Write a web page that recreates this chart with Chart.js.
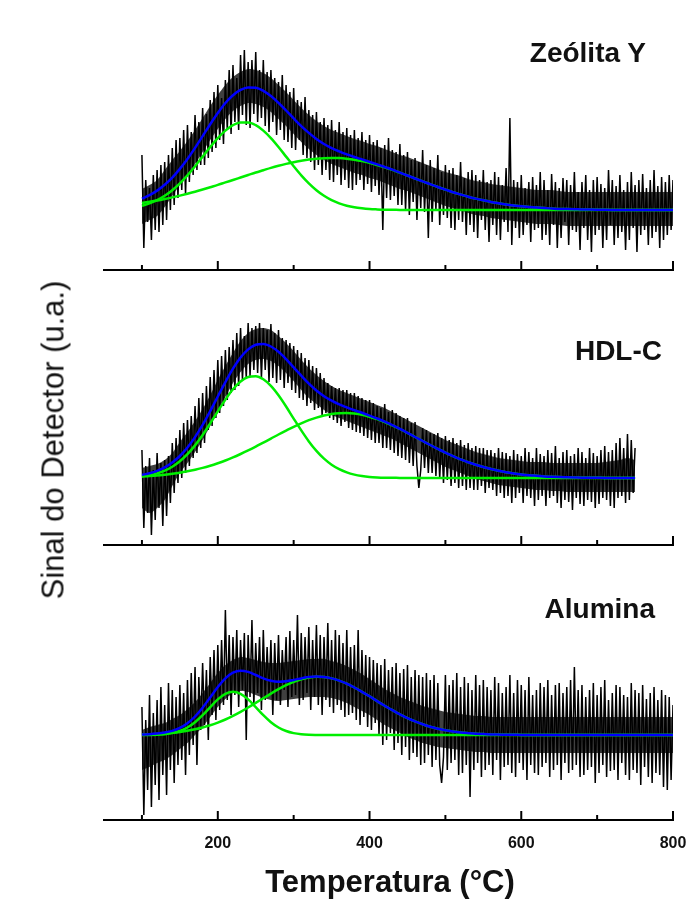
<!DOCTYPE html>
<html>
<head>
<meta charset="utf-8">
<script src="https://cdn.jsdelivr.net/npm/chart.js@4.4.1/dist/chart.umd.min.js"></script>
<style>
  body { margin: 0; background: #fff; }
  #wrap { position: relative; width: 691px; height: 899px; overflow: hidden; }
  canvas { position: absolute; left: 0; }
  .lbl { position: absolute; font: bold 28px 'Liberation Sans', Arial, sans-serif; line-height: 28px; color: #111; white-space: nowrap; }
  #ytitle { position: absolute; left: 53px; top: 440px; transform: translate(-50%, -50%) rotate(-90deg);
            font: 31px 'Liberation Sans', Arial, sans-serif; line-height: 31px; color: #111; white-space: nowrap; }
  #xtitle { position: absolute; left: 390px; top: 866px; transform: translateX(-50%);
            font: bold 31px 'Liberation Sans', Arial, sans-serif; line-height: 31px; color: #111; white-space: nowrap; }
</style>
</head>
<body>
<div id="wrap">
  <canvas id="c1" width="691" height="272" style="top:0px"></canvas>
  <canvas id="c2" width="691" height="272" style="top:275px"></canvas>
  <canvas id="c3" width="691" height="349" style="top:550px"></canvas>
  <div class="lbl" style="right:45px; top:39px">Zeólita Y</div>
  <div class="lbl" style="right:29px; top:337px">HDL-C</div>
  <div class="lbl" style="right:36px; top:595px">Alumina</div>
  <div id="ytitle">Sinal do Detector (u.a.)</div>
  <div id="xtitle">Temperatura (°C)</div>
</div>
<script>
// x ticks
let xTicksMajor = [200, 400, 600, 800];
let xTicksMinor = [100, 300, 500, 700];

// temperatures of the fitted curves (°C)
let fitTemps = [100,110,120,130,140,150,160,170,180,190,200,210,220,230,240,250,260,270,280,290,
  300,310,320,330,340,350,360,370,380,390,400,410,420,430,440,450,460,470,480,490,
  500,510,520,530,540,550,560,570,580,590,600,610,620,630,640,650,660,670,680,690,
  700,710,720,730,740,750,760,770,780,790,800];

// Zeólita Y - fit (blue) and the two component peaks (green)
let zeoBlue = [11.3,14.9,19.4,25.2,32.4,41.1,51.0,62.1,73.9,85.8,97.0,107.0,114.8,120.1,122.6,122.3,119.2,114.0,107.2,99.5,
  91.6,83.9,77.1,71.0,66.0,61.9,58.6,55.6,53.0,50.6,48.1,45.6,43.0,40.3,37.4,34.5,31.5,28.6,25.8,23.0,
  20.4,17.8,15.5,13.3,11.4,9.7,8.1,6.8,5.6,4.6,3.7,3.0,2.4,1.9,1.5,1.1,0.9,0.7,0.5,0.4,
  0.3,0.2,0.1,0,0,0,0,0,0,0,0];
let zeoGreen1 = [4.3,6.7,9.9,14.2,19.8,26.7,34.7,43.8,53.4,63.0,71.9,79.4,84.8,87.6,87.6,84.8,79.4,71.9,63.0,53.4,
  43.8,34.7,26.7,19.8,14.2,9.9,6.7,4.3,2.7,1.7,1.0,0.6,0.3,0.2,0.1,0,0,0,0,0,
  0,0,0,0,0,0,0,0,0,0,0,0,0,0,0,0,0,0,0,0,
  0,0,0,0,0,0,0,0,0,0,0];
let zeoGreen2 = [7.0,8.2,9.5,11.0,12.6,14.4,16.3,18.3,20.5,22.8,25.1,27.6,30.0,32.5,35.0,37.5,39.8,42.1,44.2,46.1,
  47.8,49.2,50.4,51.2,51.8,52.0,51.9,51.3,50.3,48.9,47.1,45.0,42.7,40.1,37.3,34.5,31.5,28.6,25.8,23.0,
  20.4,17.8,15.5,13.3,11.4,9.7,8.1,6.8,5.6,4.6,3.7,3.0,2.4,1.9,1.5,1.1,0.9,0.7,0.5,0.4,
  0.3,0.2,0.1,0,0,0,0,0,0,0,0];
// dense part of the raw signal band (upper / lower edge)
let zeoCoreHi = [21,25,30,40,50,59,69,80,92,104,115,125,133,138,141,140,137,132,125,118,
  110,102,95,89,84,80,77,74,71,69,66,64,61,58,55,53,50,47,44,41,
  38,36,34,31,29,28,26,25,24,23,22,21,20,20,20,19,18,18,18,18,
  18,18,18,18,18,18,18,18,18,18,18];
let zeoCoreLo = [-14,-10,-6,3,14,25,35,46,58,70,81,91,99,104,107,106,103,98,91,84,
  76,68,61,55,50,46,43,40,37,35,32,30,27,24,21,19,16,13,10,7,
  4,2,0,-3,-5,-6,-8,-9,-10,-11,-12,-13,-14,-14,-14,-15,-16,-16,-16,-16,
  -16,-16,-16,-16,-16,-16,-16,-16,-16,-16,-16];

// HDL-C (100 to 750 °C)
let hdlBlue = [3.1,4.7,7.1,10.6,15.5,22.0,30.5,40.9,53.1,66.9,81.5,95.9,109.3,120.5,128.6,133.2,134.1,131.5,126.2,118.9,
  110.6,102.3,94.4,87.5,81.8,77.3,73.6,70.6,67.8,65.2,62.4,59.5,56.3,52.8,49.1,45.1,41.0,37.0,33.0,29.1,
  25.4,21.9,18.7,15.8,13.3,11.0,9.0,7.3,5.8,4.6,3.6,2.8,2.2,1.6,1.2,0.9,0.7,0.5,0.3,0.2,
  0.2,0.1,0.1,0,0,0];
let hdlGreen1 = [1.6,2.8,4.6,7.3,11.3,16.7,23.8,32.6,43.0,54.6,66.7,78.4,88.7,96.5,101.0,101.8,98.7,92.1,82.7,71.5,
  59.4,47.6,36.6,27.1,19.3,13.3,8.8,5.6,3.4,2.0,1.1,0.6,0.3,0.2,0.1,0,0,0,0,0,
  0,0,0,0,0,0,0,0,0,0,0,0,0,0,0,0,0,0,0,0,
  0,0,0,0,0,0];
let hdlGreen2 = [1.5,1.9,2.5,3.3,4.2,5.3,6.7,8.3,10.1,12.3,14.8,17.5,20.6,24.0,27.6,31.4,35.4,39.4,43.5,47.4,
  51.2,54.7,57.8,60.4,62.5,64.0,64.8,65.0,64.4,63.2,61.3,58.9,56.0,52.6,49.0,45.1,41.0,37.0,33.0,29.1,
  25.4,21.9,18.7,15.8,13.3,11.0,9.0,7.3,5.8,4.6,3.6,2.8,2.2,1.6,1.2,0.9,0.7,0.5,0.3,0.2,
  0.2,0.1,0.1,0,0,0];
let hdlCoreHi = [10,12,14,18,25,36,46,57,69,83,98,112,125,137,145,149,150,148,142,135,
  127,118,110,103,97,92,88,85,82,79,76,73,70,66,62,58,54,50,46,42,
  38,35,32,29,26,24,22,20,19,18,17,16,16,16,15,15,15,15,15,15,
  15,16,17,18,20,18];
let hdlCoreLo = [-30,-35,-30,-22,-8,5,15,26,38,52,67,81,95,106,114,118,119,117,112,105,
  97,88,80,74,68,63,60,57,54,51,48,45,42,39,35,31,27,23,19,15,
  11,8,5,2,-1,-3,-5,-7,-8,-9,-10,-11,-12,-12,-13,-13,-14,-14,-14,-14,
  -14,-14,-14,-14,-14,-14];

// Alumina
let aluBlue = [0.5,0.8,1.4,2.4,4.1,7.1,11.7,18.5,27.3,37.6,48.0,56.7,62.4,64.3,63.1,60.0,56.6,54.2,53.3,53.8,
  55.1,56.6,57.9,58.4,58.0,56.6,54.4,51.3,47.5,43.2,38.7,33.9,29.3,24.8,20.7,16.9,13.6,10.7,8.3,6.3,
  4.7,3.5,2.5,1.8,1.2,0.9,0.6,0.4,0.2,0.2,0.1,0.1,0,0,0,0,0,0,0,0,
  0,0,0,0,0,0,0,0,0,0,0];
let aluGreen1 = [0.0,0.1,0.3,0.8,1.9,4.0,7.5,12.8,19.8,27.9,35.6,41.2,43.3,41.2,35.6,27.9,19.8,12.8,7.5,4.0,
  1.9,0.8,0.3,0.1,0,0,0,0,0,0,0,0,0,0,0,0,0,0,0,0,
  0,0,0,0,0,0,0,0,0,0,0,0,0,0,0,0,0,0,0,0,
  0,0,0,0,0,0,0,0,0,0,0];
let aluGreen2 = [0.5,0.7,1.1,1.6,2.2,3.1,4.2,5.7,7.5,9.7,12.4,15.5,19.1,23.1,27.5,32.1,36.8,41.4,45.8,49.8,
  53.2,55.8,57.6,58.3,58.0,56.6,54.4,51.3,47.5,43.2,38.7,33.9,29.3,24.8,20.7,16.9,13.6,10.7,8.3,6.3,
  4.7,3.5,2.5,1.8,1.2,0.9,0.6,0.4,0.2,0.2,0.1,0.1,0,0,0,0,0,0,0,0,
  0,0,0,0,0,0,0,0,0,0,0];
let aluCoreHi = [5,8,10,12,16,20,26,33,42,52,62,70,75,78,77,75,73,72,72,73,
  74,75,76,76,76,74,72,69,65,61,56,51,46,42,38,35,32,29,27,25,
  23,22,21,20,19,19,18,18,18,18,18,18,18,18,18,18,18,18,18,18,
  18,18,18,18,18,18,18,18,18,18,18];
let aluCoreLo = [-35,-32,-28,-25,-20,-14,-8,0,8,18,28,36,42,44,43,40,37,35,34,35,
  36,37,38,38,38,37,35,32,28,24,20,15,10,6,2,-2,-5,-8,-10,-12,
  -13,-14,-15,-16,-17,-17,-18,-18,-18,-18,-18,-18,-18,-18,-18,-18,-18,-18,-18,-18,
  -18,-18,-18,-18,-18,-18,-18,-18,-18,-18,-18];

// raw detector signal, one reading every 2.5 °C from 100 °C
let noiseStart = 100;
let noiseStep = 2.5;
let zeoNoise = [
  55,-38,30,-12, 22,-30,35,-20, 40,-22,45,-15, 48,-10,55,0, 62,5,70,12,
  72,20,80,15, 85,28,78,35, 95,40,88,45, 102,45,96,52, 110,58,118,62,
  125,70,112,66, 130,80,140,76, 145,88,132,80, 155,95,160,85, 148,82,150,96,
  158,88,140,92, 150,84,138,78, 140,88,132,75, 128,80,135,70, 125,68,118,62,
  122,60,110,70, 108,55,113,52, 100,48,95,40, 98,45,88,35, 92,40,85,30,
  90,28,80,35, 88,25,78,30, 82,22,75,20, 80,25,72,30, 78,20,70,26,
  75,18,68,24, 70,15,62,-20, 65,12,72,10, 60,14,58,5, 66,5,55,0,
  58,-5,50,8, 52,-10,48,2, 60,-2,45,-28, 50,-12,42,0, 55,-15,38,-5,
  45,-8,40,-18, 42,-20,35,-10, 48,-12,32,-25, 38,-15,40,-22, 35,-28,30,-10,
  40,-20,28,-32, 30,-15,38,-25, 33,-30,25,-12, 42,-22,92,-35, 30,-18,28,-28,
  35,-25,22,-15, 28,-32,33,-20, 25,-18,38,-30, 30,-25,20,-35, 36,-15,28,-38,
  22,-28,32,-12, 30,-35,25,-20, 38,-22,18,-40, 28,-18,35,-30, 20,-42,30,-25,
  33,-20,26,-38, 22,-30,40,-15, 30,-35,24,-28, 35,-22,20,-40, 28,-30,38,-18,
  25,-42,30,-25, 36,-20,22,-35, 30,-28,40,-22, 24,-38,33,-30, 28,-25,35,-20,
  30];
let hdlNoise = [
  28,-50,12,-35, 20,-57,8,-42, 25,-30,15,-48, 18,-38,22,-25, 35,-15,40,-5,
  48,0,55,5, 58,12,62,20, 72,25,80,30, 85,35,92,48, 101,52,108,60,
  118,65,122,72, 128,78,131,85, 138,88,145,92, 150,98,142,100, 155,102,150,108,
  152,105,155,100, 150,108,148,96, 154,100,145,95, 148,98,140,90, 138,95,135,88,
  132,85,128,80, 125,78,120,72, 118,75,112,68, 110,70,105,62, 100,65,95,60,
  92,58,90,55, 90,52,88,56, 88,50,85,48, 85,46,82,45, 80,42,78,40,
  78,38,75,35, 72,35,70,30, 74,30,66,28, 68,25,65,22, 62,20,60,18,
  60,15,55,12, 56,12,-10,8, 50,10,48,5, 45,5,44,2, 45,0,40,-5,
  42,-2,38,-8, 40,-5,35,-10, 38,-8,33,-12, 35,-10,30,-12, 32,-12,30,-8,
  30,-15,28,-10, 28,-12,25,-18, 30,-15,26,-20, 25,-18,22,-25, 28,-20,24,-15,
  22,-25,30,-18, 26,-20,20,-28, 30,-22,24,-18, 22,-28,28,-20, 25,-18,32,-25,
  20,-30,26,-22, 28,-24,22,-32, 24,-20,30,-26, 26,-28,20,-22, 30,-24,25,-30,
  22,-26,28,-20, 32,-22,26,-28, 28,-30,35,-20, 40,-18,30,-25, 44,-22,38,-15,
  30];
let aluNoise = [
  28,-80,15,-55, 40,-72,22,-50, 35,-65,48,-40, 30,-60,52,-35, 45,-48,38,-30,
  50,-25,42,-40, 55,-20,62,-10, 68,-30,58,5, 72,10,65,-5, 78,20,85,15,
  90,25,95,30, 125,35,100,20, 98,40,105,28, 95,45,102,-5, 100,38,115,30,
  92,42,98,25, 105,35,88,40, 95,20,92,35, 100,30,85,45, 98,28,104,38,
  95,40,120,30, 102,35,98,42, 108,25,95,38, 110,30,100,20, 98,35,112,28,
  95,22,105,30, 100,25,92,18, 105,20,88,22, 90,15,105,10, 85,18,80,8,
  78,5,75,12, 72,0,70,-10, 76,-5,65,2, 68,-15,72,-8, 62,-20,66,-12,
  70,-25,58,-18, 65,-22,60,-30, 58,-28,62,-20, 55,-32,60,-25, 52,-30,-48,-22,
  60,-35,50,-28, 55,-25,62,-40, 48,-38,58,-30, 52,-62,45,-35, 60,-28,50,-42,
  55,-35,48,-30, 45,-40,58,-25, 52,-45,42,-32, 48,-30,60,-38, 42,-42,55,-28,
  50,-35,45,-45, 58,-30,40,-38, 45,-40,52,-32, 48,-28,55,-42, 40,-35,50,-30,
  52,-45,42,-28, 48,-38,55,-35, 68,-30,45,-42, 50,-40,38,-35, 45,-32,52,-48,
  40,-38,48,-30, 55,-42,35,-36, 42,-35,50,-45, 48,-28,40,-40, 38,-45,52,-35,
  45,-38,42,-50, 50,-32,36,-42, 42,-48,48,-38, 35,-40,45,-52, 40,-55,38,-45,
  30];

Chart.defaults.font.family = "'Liberation Sans', Arial, sans-serif";
Chart.defaults.color = '#111';

// short and long tick marks pointing up into the plot, like the original
let tickMarks = {
  id: 'tickMarks',
  afterDraw(chart) {
    let x = chart.scales.x;
    let ctx = chart.ctx;
    let bottom = chart.chartArea.bottom;
    ctx.save();
    ctx.strokeStyle = '#000';
    ctx.lineWidth = 2;
    xTicksMajor.forEach(v => {
      let px = x.getPixelForValue(v);
      ctx.beginPath(); ctx.moveTo(px, bottom); ctx.lineTo(px, bottom - 9); ctx.stroke();
    });
    xTicksMinor.forEach(v => {
      let px = x.getPixelForValue(v);
      ctx.beginPath(); ctx.moveTo(px, bottom); ctx.lineTo(px, bottom - 5); ctx.stroke();
    });
    ctx.restore();
  }
};

function toPoints(temps, vals) {
  return vals.map((v, i) => ({ x: temps[i], y: v }));
}

function makePanel(id, blue, g1, g2, noise, coreHi, coreLo, yMin, yMax, isBottom) {
  let noisePts = noise.map((v, i) => ({ x: noiseStart + i * noiseStep, y: v }));
  let smooth = { pointRadius: 0, borderWidth: 2.5, tension: 0.4, cubicInterpolationMode: 'monotone', fill: false };
  return new Chart(document.getElementById(id).getContext('2d'), {
    type: 'line',
    data: {
      datasets: [
        Object.assign({ data: toPoints(fitTemps, blue), borderColor: '#0000ff' }, smooth),
        Object.assign({ data: toPoints(fitTemps, g1), borderColor: '#00ee00' }, smooth),
        Object.assign({ data: toPoints(fitTemps, g2), borderColor: '#00ee00' }, smooth),
        { data: noisePts, borderColor: '#000', borderWidth: 1.5, pointRadius: 0, tension: 0, fill: false },
        { data: toPoints(fitTemps, coreHi), borderWidth: 0, pointRadius: 0, tension: 0.3,
          backgroundColor: 'rgba(0,0,0,0.75)', fill: '+1' },
        { data: toPoints(fitTemps, coreLo), borderWidth: 0, pointRadius: 0, tension: 0.3, fill: false }
      ]
    },
    options: {
      responsive: false,
      animation: false,
      devicePixelRatio: 1,
      layout: { padding: { left: 104, right: 18, top: 0, bottom: isBottom ? 0 : 2 } },
      plugins: { legend: { display: false }, tooltip: { enabled: false } },
      scales: {
        x: {
          type: 'linear',
          min: 50,
          max: 800,
          grid: { display: false, drawTicks: false },
          border: { display: true, color: '#000', width: 2 },
          afterBuildTicks: s => { s.ticks = xTicksMajor.map(v => ({ value: v })); },
          afterFit: s => {
            s.paddingLeft = 0;
            s.paddingRight = 0;
            if (isBottom) s.height = 79;
          },
          ticks: {
            display: isBottom,
            padding: 14,
            font: { size: 16, weight: 'bold' },
            color: '#111',
            maxRotation: 0
          }
        },
        y: { display: false, min: yMin, max: yMax }
      }
    },
    plugins: [tickMarks]
  });
}

makePanel('c1', zeoBlue, zeoGreen1, zeoGreen2, zeoNoise, zeoCoreHi, zeoCoreLo, -60, 210, false);
makePanel('c2', hdlBlue, hdlGreen1, hdlGreen2, hdlNoise, hdlCoreHi, hdlCoreLo, -67, 203, false);
makePanel('c3', aluBlue, aluGreen1, aluGreen2, aluNoise, aluCoreHi, aluCoreLo, -85, 185, true);
</script>
</body>
</html>
